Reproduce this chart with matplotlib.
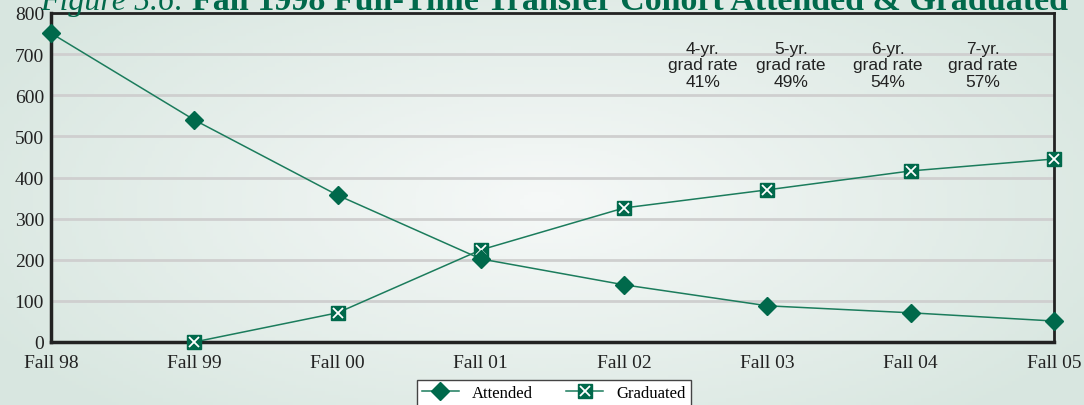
import matplotlib.pyplot as plt
import numpy as np

terms = ["Fall 98", "Fall 99", "Fall 00", "Fall 01", "Fall 02", "Fall 03", "Fall 04", "Fall 05"]
attended = [751, 540, 357, 202, 139, 88, 71, 51]
graduated = [None, 0, 71, 224, 326, 370, 416, 445]
rate_labels = ["4-yr.\ngrad rate\n41%", "5-yr.\ngrad rate\n49%", "6-yr.\ngrad rate\n54%", "7-yr.\ngrad rate\n57%"]

green = "#00694b"
line_green = "#1b7c5c"

fig = plt.figure(figsize=(10.84, 4.06), dpi=100)

# soft greenish background, lighter toward the middle
bg = fig.add_axes([0, 0, 1, 1], zorder=-10)
xx, yy = np.meshgrid(np.linspace(-1, 1, 300), np.linspace(-1, 1, 120))
r = np.clip(np.sqrt((xx / 1.15) ** 2 + (yy / 1.4) ** 2), 0, 1)
c_in = np.array([0.965, 0.975, 0.972])
c_out = np.array([0.85, 0.905, 0.88])
img = c_in[None, None, :] * (1 - r[..., None]) + c_out[None, None, :] * r[..., None]
bg.imshow(img, aspect="auto", extent=[0, 1, 0, 1])
bg.axis("off")

ax = fig.add_axes([51 / 1084, 1 - 343 / 406, (1054 - 51) / 1084, (343 - 14) / 406])
ax.patch.set_alpha(0)

x = np.arange(len(terms))
gx = [i for i, v in zip(x, graduated) if v is not None]
gy = [v for v in graduated if v is not None]

g_sq, = ax.plot(gx, gy, color=line_green, lw=1.1, marker="s", ms=10,
                mfc=green, mec=green, zorder=3, clip_on=False)
g_x, = ax.plot(gx, gy, ls="none", marker="x", ms=7, mew=1.3, color="white",
               zorder=4, clip_on=False)
a_ln, = ax.plot(x, attended, color=line_green, lw=1.1, marker="D", ms=9,
                mfc=green, mec=green, zorder=5, clip_on=False)

ax.set_xlim(0, 7)
ax.set_ylim(0, 800)
ax.set_yticks(range(0, 801, 100))
ax.set_xticks(x)
ax.set_xticklabels(terms)
ax.yaxis.grid(True, color="#cfcfcf", lw=2)
ax.set_axisbelow(True)
ax.tick_params(length=0, labelsize=14, colors="#222222")
ax.tick_params(axis="x", pad=9)
ax.tick_params(axis="y", pad=5)
for lab in ax.get_xticklabels() + ax.get_yticklabels():
    lab.set_family("Liberation Serif")
for s in ax.spines.values():
    s.set_color("#222222")
ax.spines["left"].set_linewidth(2.5)
ax.spines["bottom"].set_linewidth(2.5)
ax.spines["top"].set_linewidth(2)
ax.spines["right"].set_linewidth(2)

# graduation rate notes
for xp, txt in zip([703, 791, 888, 983], rate_labels):
    fig.text(xp / 1084, 1 - 42 / 406, txt, ha="center", va="top", fontsize=12.5,
             family="Liberation Sans", color="#222222", linespacing=1.12)

leg = fig.legend([a_ln, (g_sq, g_x)], ["Attended", "Graduated"], loc="upper left",
                 bbox_to_anchor=(417 / 1084, 1 - 381 / 406), ncol=2, frameon=True,
                 fancybox=False, edgecolor="#444444", facecolor="white", framealpha=1,
                 prop={"family": "Liberation Serif", "size": 12}, handlelength=2.2,
                 columnspacing=2.0, borderpad=0.3, borderaxespad=0)
leg.get_frame().set_linewidth(1)

fig.text(40 / 1084, 1 - 10 / 406, "Figure 5.6:", fontsize=23, style="italic",
         family="Liberation Serif", color=green, va="baseline")
fig.text(192 / 1084, 1 - 10 / 406, "Fall 1998 Full-Time Transfer Cohort Attended & Graduated",
         fontsize=24.5, weight="bold", family="Liberation Serif", color=green, va="baseline")

fig.savefig("out.png", dpi=100)
